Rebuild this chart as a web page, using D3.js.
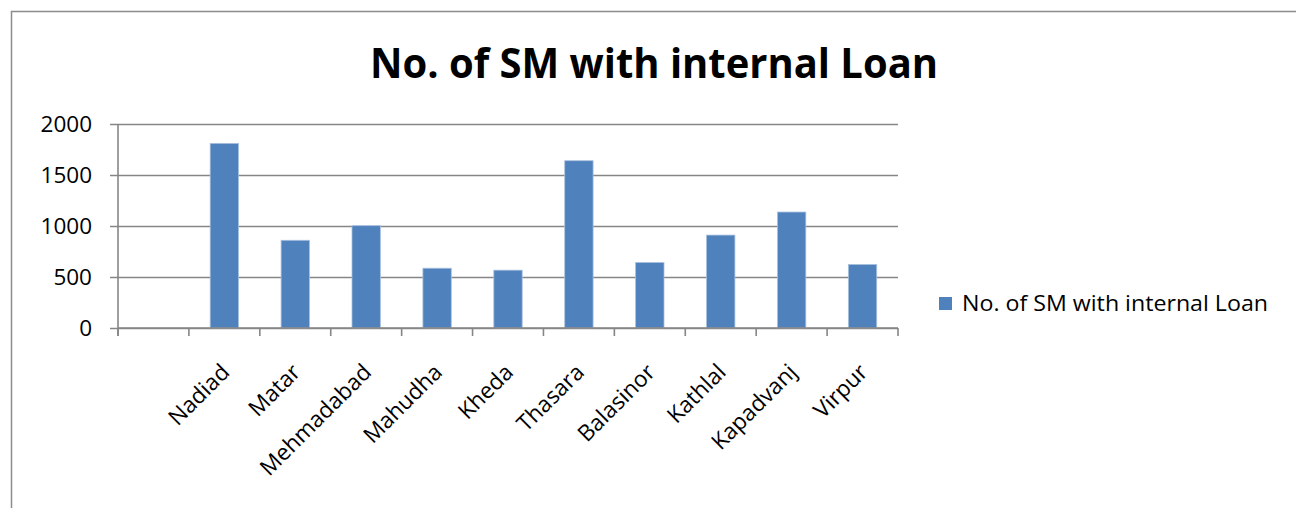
<!DOCTYPE html>
<html>
<head>
<meta charset="utf-8">
<script src="https://cdn.jsdelivr.net/npm/d3@7/dist/d3.min.js"></script>
<style>
  html, body { margin: 0; padding: 0; background: #ffffff; }
  svg { display: block; }
  text { font-family: "Open Sans", "Noto Sans", sans-serif; fill: #000; }
</style>
</head>
<body>
<svg id="chart" width="1296" height="508"></svg>
<script>
// Blocks (first slot on the axis is left blank)
const categories = ["", "Nadiad", "Matar", "Mehmadabad", "Mahudha", "Kheda", "Thasara", "Balasinor", "Kathlal", "Kapadvanj", "Virpur"];
// Number of SM with internal loan per block
const loanCounts = [null, 1810, 860, 1003, 586, 567, 1640, 642, 911, 1137, 623];
const yTicks = [0, 500, 1000, 1500, 2000];
const seriesName = "No. of SM with internal Loan";
const chartTitle = "No. of SM with internal Loan";

const W = 1296, H = 508;
const plot = { left: 118, right: 898, top: 124, bottom: 328 };
const barColor = "#4f81bd";
const lineColor = "#868686";

const svg = d3.select("#chart");

// outer chart frame
svg.append("rect")
  .attr("x", 11.5).attr("y", 11.5)
  .attr("width", W + 20).attr("height", H + 20)
  .attr("fill", "#fff").attr("stroke", "#8c8c8c").attr("stroke-width", 1.5);

const x = d3.scaleBand()
  .domain(categories)
  .range([plot.left, plot.right])
  .paddingInner(0.6)
  .paddingOuter(0.3);

const y = d3.scaleLinear()
  .domain([0, 2000])
  .range([plot.bottom, plot.top]);

// horizontal gridlines with small ticks on the left
const yAxis = d3.axisLeft(y)
  .tickValues(yTicks)
  .tickSize(-(plot.right - plot.left) - 8)
  .tickPadding(0)
  .tickFormat("");
const gy = svg.append("g")
  .attr("transform", `translate(${plot.right},0)`)
  .call(yAxis);
gy.select(".domain").remove();
gy.selectAll(".tick line")
  .attr("x1", 0)
  .attr("x2", -(plot.right - plot.left) - 8)
  .attr("stroke", lineColor).attr("stroke-width", 1.6);

// y tick labels
svg.append("g").selectAll("text")
  .data(yTicks)
  .join("text")
  .attr("x", 92)
  .attr("y", d => y(d))
  .attr("dy", "0.36em")
  .attr("text-anchor", "end")
  .attr("font-size", 22.5)
  .text(d => d);

// vertical axis line
svg.append("line")
  .attr("x1", plot.left).attr("x2", plot.left)
  .attr("y1", y(2000)).attr("y2", plot.bottom + 8)
  .attr("stroke", lineColor).attr("stroke-width", 1.6);

// bars
svg.append("g").selectAll("rect")
  .data(categories.map((c, i) => ({ c, v: loanCounts[i] })).filter(d => d.v != null))
  .join("rect")
  .attr("x", d => x(d.c))
  .attr("y", d => y(d.v))
  .attr("width", x.bandwidth())
  .attr("height", d => y(0) - y(d.v))
  .attr("fill", barColor)
  .attr("stroke", "#a9c0dd")
  .attr("stroke-width", 0.8);

// category axis with ticks between slots
const step = x.step();
const bounds = d3.range(categories.length + 1).map(i => plot.left + i * step);
svg.append("line")
  .attr("x1", plot.left).attr("x2", plot.right)
  .attr("y1", plot.bottom).attr("y2", plot.bottom)
  .attr("stroke", lineColor).attr("stroke-width", 1.6);
svg.append("g").selectAll("line")
  .data(bounds)
  .join("line")
  .attr("x1", d => d).attr("x2", d => d)
  .attr("y1", plot.bottom).attr("y2", plot.bottom + 8)
  .attr("stroke", lineColor).attr("stroke-width", 1.6);

// rotated category labels
svg.append("g").selectAll("text")
  .data(categories.filter(c => c !== ""))
  .join("text")
  .attr("transform", d => `translate(${x(d) + x.bandwidth() / 2 + 1},${plot.bottom + 40}) rotate(-45)`)
  .attr("text-anchor", "end")
  .attr("dy", "0.35em")
  .attr("font-size", 22.5)
  .text(d => d);

// title
svg.append("text")
  .attr("x", 654)
  .attr("y", 78)
  .attr("text-anchor", "middle")
  .attr("font-size", 42)
  .attr("font-weight", "bold")
  .attr("textLength", 568)
  .attr("lengthAdjust", "spacingAndGlyphs")
  .text(chartTitle);

// legend
const lg = svg.append("g").attr("transform", "translate(939,297)");
lg.append("rect")
  .attr("width", 13).attr("height", 13)
  .attr("fill", barColor);
lg.append("text")
  .attr("x", 23)
  .attr("y", 13.5)
  .attr("font-size", 21.5)
  .attr("textLength", 306)
  .attr("lengthAdjust", "spacingAndGlyphs")
  .text(seriesName);
</script>
</body>
</html>
